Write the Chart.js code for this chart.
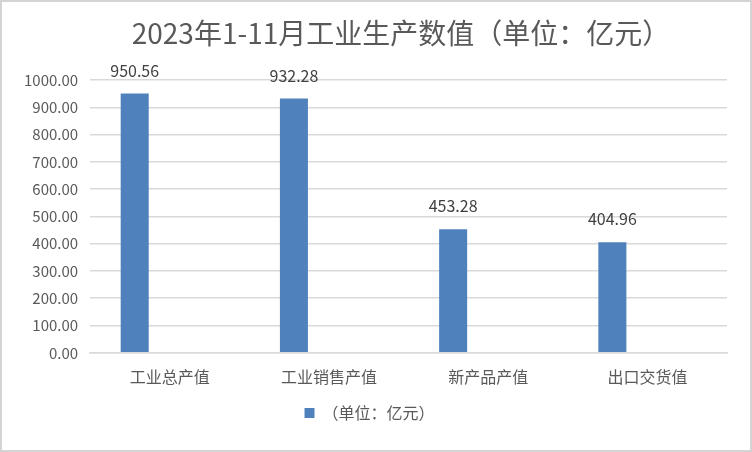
<!DOCTYPE html>
<html>
<head>
<meta charset="utf-8">
<script src="https://cdn.jsdelivr.net/npm/chart.js@4/dist/chart.umd.min.js"></script>
<style>
  html, body { margin: 0; padding: 0; background: #fff; }
  #wrap { width: 752px; height: 452px; box-sizing: border-box; border: 2px solid #d4d4d4; position: relative; }
  canvas { display: block; }
</style>
</head>
<body>
<div id="wrap"><canvas id="chart" width="748" height="448"></canvas></div>
<script>
// ── data ────────────────────────────────────────────────────────────────
const categories = ["工业总产值", "工业销售产值", "新产品产值", "出口交货值"];
const values     = [950.56, 932.28, 453.28, 404.96];
const seriesName = "（单位：亿元）";
const titleText  = "2023年1-11月工业生产数值（单位：亿元）";
const yTicks     = { min: 0, max: 1000, step: 100 };

const FONT = '"Noto Sans CJK SC", "Noto Sans", sans-serif';

// value labels above each bar + title (centred a bit right of canvas centre, like the original)
const decorations = {
  id: "decorations",
  afterDatasetsDraw(chart) {
    const ctx = chart.ctx;
    const meta = chart.getDatasetMeta(0);
    ctx.save();
    ctx.font = `16px ${FONT}`;
    ctx.fillStyle = "#404040";
    ctx.textAlign = "center";
    ctx.textBaseline = "middle";
    meta.data.forEach((bar, i) => {
      ctx.fillText(values[i].toFixed(2), bar.x, bar.y - 23);
    });
    ctx.font = `28px ${FONT}`;
    ctx.fillStyle = "#595959";
    ctx.fillText(titleText, 399, 31);
    ctx.restore();
  }
};

new Chart(document.getElementById("chart").getContext("2d"), {
  type: "bar",
  data: {
    labels: categories,
    datasets: [
      { label: seriesName, data: values, backgroundColor: "#4f81bd",
        barPercentage: 0.4, categoryPercentage: 0.88 },
      { label: "", data: categories.map(() => null), backgroundColor: "#c0504d",
        barPercentage: 0.4, categoryPercentage: 0.88 },
    ],
  },
  options: {
    responsive: false,
    animation: false,
    layout: { padding: { left: 10, right: 23, top: 78, bottom: 19 } },
    scales: {
      x: {
        grid: { display: false, drawTicks: false },
        border: { color: "#d9d9d9", width: 1.5 },
        ticks: { color: "#595959", font: { family: FONT, size: 16 }, padding: 15 },
      },
      y: {
        min: yTicks.min, max: yTicks.max,
        ticks: { stepSize: yTicks.step, color: "#595959", font: { family: FONT, size: 15 }, padding: 12,
                 callback: v => Number(v).toFixed(2) },
        grid: { color: "#d9d9d9", lineWidth: 1.5, drawTicks: false },
        border: { display: false },
      },
    },
    plugins: {
      title: { display: false },
      legend: {
        position: "bottom",
        labels: { color: "#595959", font: { family: FONT, size: 16 }, boxWidth: 10, boxHeight: 10,
                  padding: 3, filter: item => item.datasetIndex === 0 },
      },
      tooltip: { enabled: false },
    },
  },
  plugins: [decorations],
});
</script>
</body>
</html>
